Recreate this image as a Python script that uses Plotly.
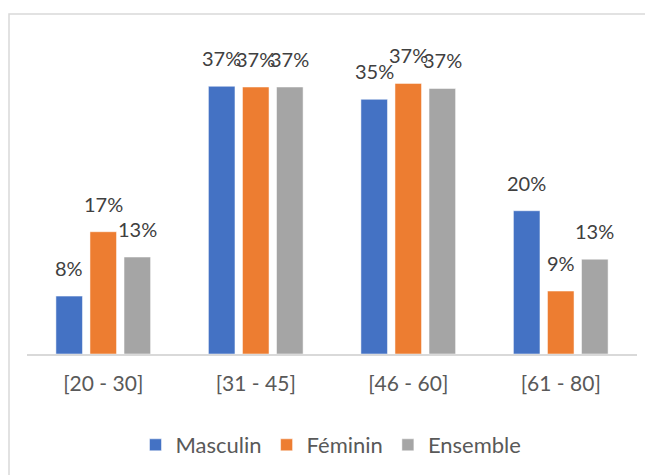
import plotly.graph_objs as go

categories = ['[20 - 30]', '[31 - 45]', '[46 - 60]', '[61 - 80]']
series_names = ['Masculin', 'Féminin', 'Ensemble']
masculin = [0.080, 0.370, 0.352, 0.198]
feminin = [0.169, 0.369, 0.374, 0.087]
ensemble = [0.134, 0.369, 0.367, 0.131]
colors = ['#4472C4', '#ED7D31', '#A5A5A5']

BARGAP = 0.33
FONT = 'Lato'

fig = go.Figure()
annotations = []
slot = (1 - BARGAP) / 3
for j, (name, values, color) in enumerate(zip(series_names, [masculin, feminin, ensemble], colors)):
    fig.add_trace(go.Bar(
        x=categories,
        y=values,
        name=name,
        marker=dict(color=color, line=dict(color='white', width=0.5)),
    ))
    # Excel-style data labels floating above each bar
    for i, v in enumerate(values):
        annotations.append(dict(
            x=i + (j - 1) * slot, y=v, xref='x', yref='y',
            text='{:.0%}'.format(v), showarrow=False,
            yanchor='bottom', yshift=14,
            font=dict(family=FONT, size=20, color='#404040'),
        ))

layout = go.Layout(
    width=645, height=475, autosize=False,
    margin=dict(l=0, r=0, t=0, b=0),
    paper_bgcolor='white', plot_bgcolor='white',
    barmode='group', bargap=BARGAP, bargroupgap=0.22,
    font=dict(family=FONT, color='#595959'),
    xaxis=dict(
        domain=[27 / 645, 637 / 645], range=[-0.5, 3.5],
        showline=True, linecolor='#D9D9D9', linewidth=1.5,
        showgrid=False, ticks='', ticklabelstandoff=10,
        tickfont=dict(family=FONT, size=21, color='#595959'),
    ),
    yaxis=dict(
        domain=[1 - 354 / 475, 1 - 28.4 / 475], range=[0, 0.45],
        showgrid=False, showticklabels=False, zeroline=False, showline=False,
    ),
    legend=dict(
        orientation='h', x=331 / 645, xanchor='center', y=1 - 445 / 475, yanchor='middle',
        font=dict(family=FONT, size=22, color='#595959'),
    ),
    annotations=annotations,
    shapes=[dict(
        type='rect', xref='paper', yref='paper',
        x0=9 / 645, x1=1.05, y0=-0.05, y1=1 - 14 / 475,
        line=dict(color='#D9D9D9', width=1.5),
    )],
)
fig.update_layout(layout)
fig.write_html("out.html", config={'displayModeBar': False},
               post_script="document.body.style.margin='0';")
